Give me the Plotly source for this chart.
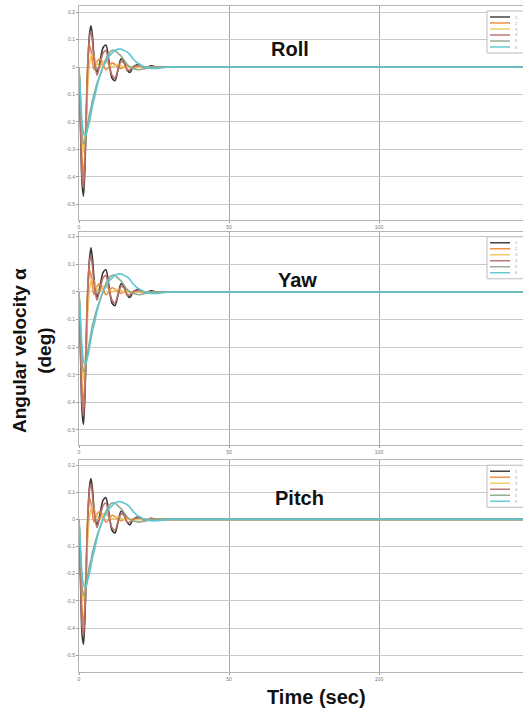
import plotly.graph_objects as go

# Shared time grid (s)
time = [0, 0.5, 1, 1.5, 2, 2.5, 3, 3.5, 4, 4.5, 5, 6, 7, 8, 9, 10, 11, 12,
        13, 14, 15, 16, 17, 18, 20, 22, 24, 26, 30, 35, 40, 50, 148]

# Roll responses
roll_1 = [0, -0.22, -0.42, -0.47, -0.36, -0.16, 0.02, 0.12, 0.15, 0.11, 0.04, -0.02, 0.02, 0.07, 0.08,
          0.02, -0.04, -0.05, -0.01, 0.03, 0.02, -0.01, -0.02, 0.0, 0.01, -0.005, 0.004, 0.0, 0, 0, 0, 0, 0]
roll_2 = [0, -0.16, -0.33, -0.4, -0.3, -0.12, 0.03, 0.08, 0.06, 0.02, -0.01, 0.02, 0.03, 0.01, -0.01,
          0.0, 0.015, 0.01, 0.0, -0.005, 0.0, 0.005, 0.0, 0.0, 0, 0, 0, 0, 0, 0, 0, 0, 0]
roll_3 = [0, -0.13, -0.26, -0.31, -0.27, -0.17, -0.06, 0.01, 0.04, 0.05, 0.04, 0.01, 0.0, 0.02, 0.02,
          0.01, 0.0, 0.005, 0.01, 0.005, 0, 0, 0, 0, 0, 0, 0, 0, 0, 0, 0, 0, 0]
roll_4 = [0, -0.2, -0.4, -0.44, -0.33, -0.14, 0.03, 0.11, 0.13, 0.09, 0.03, -0.03, 0.01, 0.05, 0.06,
          0.01, -0.03, -0.04, -0.01, 0.02, 0.015, -0.01, -0.01, 0.0, 0.005, 0, 0, 0, 0, 0, 0, 0, 0]
roll_5 = [0, -0.12, -0.24, -0.28, -0.27, -0.24, -0.2, -0.17, -0.15, -0.12, -0.1, -0.06, -0.03, 0.0, 0.03,
          0.05, 0.06, 0.06, 0.05, 0.04, 0.025, 0.01, 0.0, -0.005, -0.01, -0.005, 0.0, 0, 0, 0, 0, 0, 0]
roll_6 = [0, -0.1, -0.2, -0.24, -0.25, -0.24, -0.22, -0.2, -0.17, -0.14, -0.12, -0.07, -0.03, 0.0, 0.02,
          0.04, 0.05, 0.06, 0.065, 0.065, 0.06, 0.055, 0.045, 0.03, 0.01, 0.0, -0.005, -0.005, 0.0, 0, 0, 0, 0]

# Yaw responses
yaw_1 = [0, -0.22, -0.43, -0.48, -0.37, -0.17, 0.02, 0.12, 0.16, 0.12, 0.05, -0.02, 0.02, 0.07, 0.08,
         0.02, -0.04, -0.05, -0.01, 0.03, 0.02, -0.01, -0.02, 0.0, 0.01, -0.005, 0.004, 0.0, 0, 0, 0, 0, 0]
yaw_2 = [0, -0.17, -0.34, -0.41, -0.31, -0.12, 0.03, 0.08, 0.06, 0.02, -0.01, 0.02, 0.03, 0.01, -0.01,
         0.0, 0.015, 0.01, 0.0, -0.005, 0.0, 0.005, 0.0, 0.0, 0, 0, 0, 0, 0, 0, 0, 0, 0]
yaw_3 = [0, -0.13, -0.27, -0.32, -0.28, -0.18, -0.06, 0.01, 0.04, 0.05, 0.04, 0.01, 0.0, 0.02, 0.02,
         0.01, 0.0, 0.005, 0.01, 0.005, 0, 0, 0, 0, 0, 0, 0, 0, 0, 0, 0, 0, 0]
yaw_4 = [0, -0.2, -0.4, -0.45, -0.34, -0.14, 0.03, 0.11, 0.13, 0.09, 0.03, -0.03, 0.01, 0.05, 0.06,
         0.01, -0.03, -0.04, -0.01, 0.02, 0.015, -0.01, -0.01, 0.0, 0.005, 0, 0, 0, 0, 0, 0, 0, 0]
yaw_5 = [0, -0.12, -0.24, -0.29, -0.28, -0.25, -0.21, -0.18, -0.15, -0.12, -0.1, -0.06, -0.03, 0.0, 0.03,
         0.05, 0.06, 0.06, 0.05, 0.04, 0.025, 0.01, 0.0, -0.005, -0.01, -0.005, 0.0, 0, 0, 0, 0, 0, 0]
yaw_6 = [0, -0.1, -0.2, -0.25, -0.26, -0.25, -0.23, -0.2, -0.17, -0.14, -0.12, -0.07, -0.03, 0.0, 0.02,
         0.04, 0.05, 0.06, 0.065, 0.065, 0.06, 0.055, 0.045, 0.03, 0.01, 0.0, -0.005, -0.005, 0.0, 0, 0, 0, 0]

# Pitch responses
pitch_1 = [0, -0.22, -0.42, -0.46, -0.36, -0.16, 0.02, 0.12, 0.15, 0.11, 0.04, -0.02, 0.02, 0.07, 0.08,
           0.02, -0.04, -0.05, -0.01, 0.03, 0.02, -0.01, -0.02, 0.0, 0.01, -0.005, 0.004, 0.0, 0, 0, 0, 0, 0]
pitch_2 = [0, -0.16, -0.33, -0.39, -0.3, -0.12, 0.03, 0.08, 0.06, 0.02, -0.01, 0.02, 0.03, 0.01, -0.01,
           0.0, 0.015, 0.01, 0.0, -0.005, 0.0, 0.005, 0.0, 0.0, 0, 0, 0, 0, 0, 0, 0, 0, 0]
pitch_3 = [0, -0.13, -0.26, -0.3, -0.27, -0.17, -0.06, 0.01, 0.04, 0.05, 0.04, 0.01, 0.0, 0.02, 0.02,
           0.01, 0.0, 0.005, 0.01, 0.005, 0, 0, 0, 0, 0, 0, 0, 0, 0, 0, 0, 0, 0]
pitch_4 = [0, -0.2, -0.39, -0.43, -0.33, -0.14, 0.03, 0.11, 0.13, 0.09, 0.03, -0.03, 0.01, 0.05, 0.06,
           0.01, -0.03, -0.04, -0.01, 0.02, 0.015, -0.01, -0.01, 0.0, 0.005, 0, 0, 0, 0, 0, 0, 0, 0]
pitch_5 = [0, -0.12, -0.24, -0.28, -0.27, -0.24, -0.2, -0.17, -0.15, -0.12, -0.1, -0.06, -0.03, 0.0, 0.03,
           0.05, 0.06, 0.06, 0.05, 0.04, 0.025, 0.01, 0.0, -0.005, -0.01, -0.005, 0.0, 0, 0, 0, 0, 0, 0]
pitch_6 = [0, -0.1, -0.2, -0.24, -0.25, -0.24, -0.22, -0.2, -0.17, -0.14, -0.12, -0.07, -0.03, 0.0, 0.02,
           0.04, 0.05, 0.06, 0.065, 0.065, 0.06, 0.055, 0.045, 0.03, 0.01, 0.0, -0.005, -0.005, 0.0, 0, 0, 0, 0]

series_names = ["1", "2", "3", "4", "5", "6"]
series_colors = ["#3a3434", "#ee8a3c", "#f3c85a", "#b8706a", "#8fa88c", "#5cc6d2"]

y_ticks = [0.2, 0.1, 0, -0.1, -0.2, -0.3, -0.4, -0.5]
y_tick_text = ["0.2", "0.1", "0", "-0.1", "-0.2", "-0.3", "-0.4", "-0.5"]
x_ticks = [0, 50, 100]
x_tick_text = ["0", "50", "100"]

panels = [
    ("Roll", [roll_1, roll_2, roll_3, roll_4, roll_5, roll_6], [0.679, 1.0], [-0.556, 0.222]),
    ("Yaw", [yaw_1, yaw_2, yaw_3, yaw_4, yaw_5, yaw_6], [0.341, 0.661], [-0.554, 0.218]),
    ("Pitch", [pitch_1, pitch_2, pitch_3, pitch_4, pitch_5, pitch_6], [0.0, 0.318], [-0.562, 0.218]),
]
# title centres in pixels
title_px = [(290, 49), (297, 280), (299, 498)]

# Figure geometry used to place titles and the compact legend boxes
W, H = 523, 708
ML, MR, MT, MB = 79, 0, 6, 36
PW, PH = W - ML - MR, H - MT - MB


def px_x(px):
    return (px - ML) / PW


def px_y(py):
    return (H - MB - py) / PH


fig = go.Figure()
layout = dict(
    width=W, height=H,
    margin=dict(l=ML, r=MR, t=MT, b=MB),
    paper_bgcolor="white", plot_bgcolor="white",
    font=dict(family="Liberation Sans, Arial, sans-serif"),
    showlegend=False,
)

shapes = []
annotations = []
for i, (name, ys, dom, yr) in enumerate(panels):
    k = "" if i == 0 else str(i + 1)
    for j, y in enumerate(ys):
        fig.add_trace(go.Scatter(
            x=time, y=y, mode="lines", name=series_names[j],
            line=dict(color=series_colors[j], width=1.6, shape="spline", smoothing=0.7),
            xaxis="x" + k, yaxis="y" + k,
        ))
    axis_common = dict(showgrid=True, gridcolor="#c9c9c9", gridwidth=1,
                       showline=True, linecolor="#b5b5b5", linewidth=1, mirror=True,
                       zeroline=False, ticks="outside", ticklen=2, tickcolor="#999",
                       tickfont=dict(size=5, color="#777"))
    layout["xaxis" + k] = dict(axis_common, domain=[0, 1], range=[0, 148],
                               tickvals=x_ticks, ticktext=x_tick_text,
                               anchor="y" + k, gridcolor="#a8a8a8")
    layout["yaxis" + k] = dict(axis_common, domain=dom, range=yr,
                               tickvals=y_ticks, ticktext=y_tick_text,
                               anchor="x" + k)

    # compact legend box in the upper-right corner of each panel
    top_px = H - MB - dom[1] * PH
    shapes.append(dict(type="rect", xref="paper", yref="paper",
                       x0=px_x(487), x1=px_x(540), y0=px_y(top_px + 47), y1=px_y(top_px + 5),
                       line=dict(color="#bdbdbd", width=1), fillcolor="white", layer="above"))
    for j, c in enumerate(series_colors):
        ry = top_px + 11 + 6 * j
        shapes.append(dict(type="line", xref="paper", yref="paper",
                           x0=px_x(490), x1=px_x(510), y0=px_y(ry), y1=px_y(ry),
                           line=dict(color=c, width=1.4), layer="above"))
        annotations.append(dict(text=series_names[j], x=px_x(513), y=px_y(ry),
                                xref="paper", yref="paper", xanchor="left", yanchor="middle",
                                showarrow=False, font=dict(size=4, color="#999")))

for (name, _, _, _), (tx, ty) in zip(panels, title_px):
    annotations.append(dict(text="<b>%s</b>" % name, x=px_x(tx), y=px_y(ty),
                            xref="paper", yref="paper", xanchor="center", yanchor="middle",
                            showarrow=False, font=dict(size=20, color="#111")))
annotations.append(dict(text="<b>Angular velocity α<br>(deg)</b>", x=px_x(32), y=px_y(351),
                        xref="paper", yref="paper", xanchor="center", yanchor="middle",
                        textangle=-90, showarrow=False,
                        font=dict(size=19, color="#111")))
annotations.append(dict(text="<b>Time (sec)</b>", x=px_x(316), y=px_y(697),
                        xref="paper", yref="paper", xanchor="center", yanchor="middle",
                        showarrow=False, font=dict(size=20, color="#111")))
layout["annotations"] = annotations
layout["shapes"] = shapes

fig.update_layout(**layout)
fig.write_html("out.html")
